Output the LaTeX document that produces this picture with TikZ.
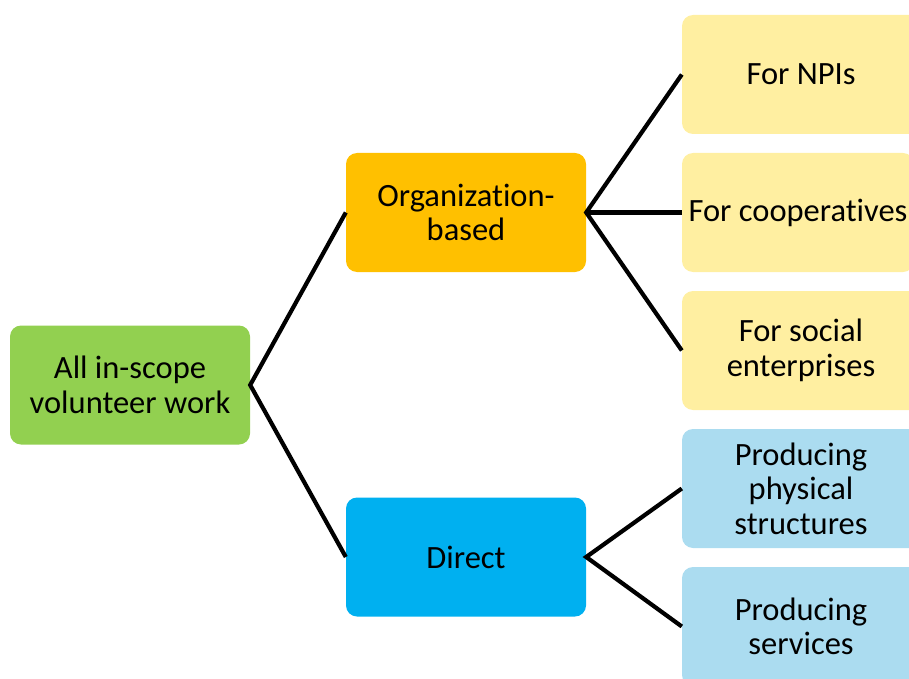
\documentclass[tikz,border=0pt]{standalone}
\usepackage{fontspec}
\setmainfont{Carlito}[Ligatures = NoCommon]
\usepackage{tikz}
\usetikzlibrary{positioning}
\tikzset{box/.style = {rounded corners = 11pt, minimum width = 240pt, minimum height = 119pt, inner sep = 0, align = center, font = \fontsize{32.5}{34.5}\selectfont}}
\tikzset{link/.style = {line width = 4.2pt}}
\definecolor{mgreen}{HTML}{92D050}
\definecolor{mgold}{HTML}{FFC000}
\definecolor{mblue}{HTML}{00B0F0}
\definecolor{mpaleyellow}{HTML}{FFEFA1}
\definecolor{mpaleblue}{HTML}{ABDCF0}

\begin{document}
\begin{tikzpicture}[x = 1pt, y = -1pt]
    \useasboundingbox (0, 0) rectangle (909, 679);
    \clip (0, 0) rectangle (909, 679);

    \node [box, fill = mgreen] (all) at (130, 385) {All in-scope\\volunteer work};
    \node [box, fill = mgold] (org) at (466, 212.5) {Organization-\\based};
    \node [box, fill = mblue] (direct) at (466, 557) {Direct};

    \node [box, fill = mpaleyellow, minimum width = 238pt] (npi) at (801, 74.5) {For NPIs};
    \node [box, fill = mpaleyellow, minimum width = 232pt] (coop) at (798, 212.5) {For cooperatives};
    \node [box, fill = mpaleyellow, minimum width = 238pt] (social) at (801, 350.5) {For social\\enterprises};
    \node [box, fill = mpaleblue, minimum width = 238pt] (physical) at (801, 488.5) {Producing\\physical\\structures};
    \node [box, fill = mpaleblue, minimum width = 238pt] (services) at (801, 626.5) {Producing\\services};

    \draw [link] (org.west) -- (all.east) -- (direct.west);
    \draw [link] (npi.west) -- (org.east) -- (social.west);
    \draw [link] (org.east) -- (coop.west);
    \draw [link] (physical.west) -- (direct.east) -- (services.west);
\end{tikzpicture}
\end{document}
